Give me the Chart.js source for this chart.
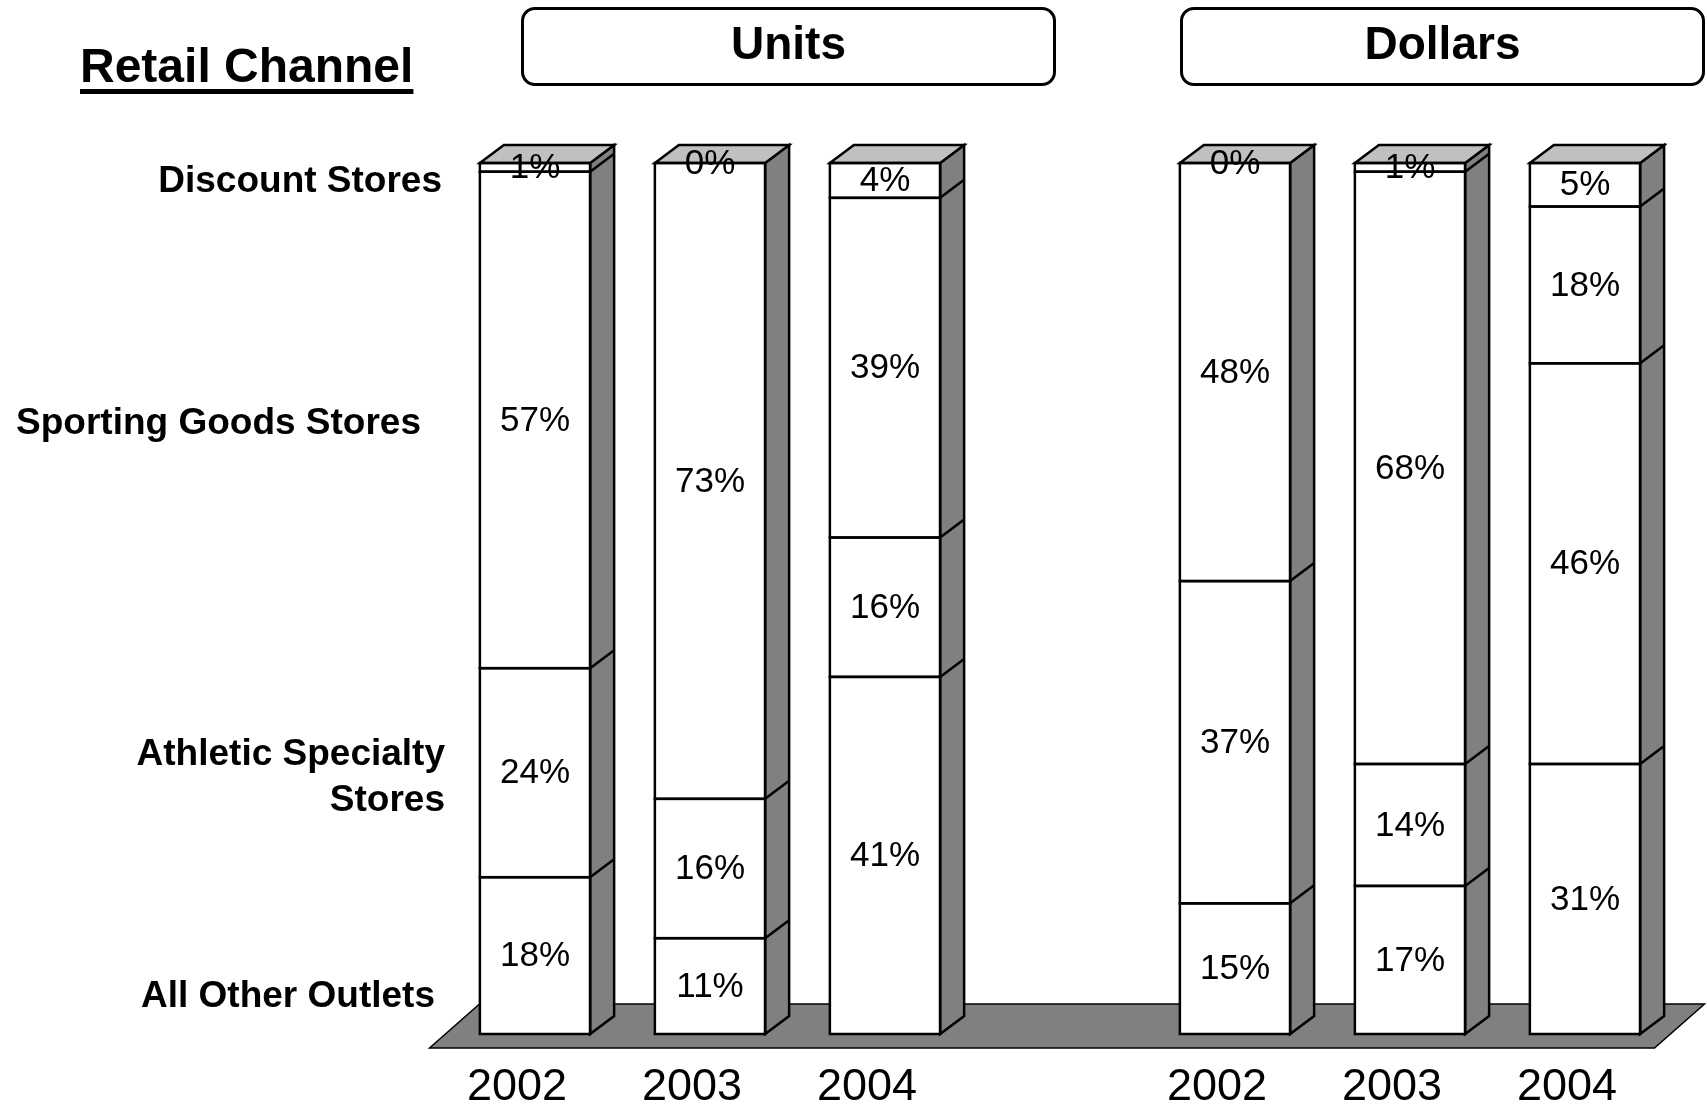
<!DOCTYPE html>
<html>
<head>
<meta charset="utf-8">
<title>Retail Channel</title>
<script src="https://cdn.jsdelivr.net/npm/chart.js@4.4.0/dist/chart.umd.min.js"></script>
<style>
    body { margin: 0; background: #fff; font-family: "Liberation Sans", Arial, sans-serif; color: #000; }
    #wrap { position: relative; width: 1707px; height: 1107px; overflow: hidden; }
    #chart { position: absolute; left: 0; top: 0; }
    .title {
        position: absolute; left: 80px; top: 66px; transform: translateY(-50%);
        font-size: 48px; font-weight: bold; line-height: 56px; white-space: nowrap;
        text-decoration: underline; text-decoration-thickness: 5px; text-underline-offset: 7px;
    }
    .group {
        position: absolute; top: 7px; height: 79px; box-sizing: border-box;
        border: 3px solid #000; border-radius: 14px;
        font-size: 46px; font-weight: bold;
        display: flex; align-items: center; justify-content: center; padding-bottom: 7px;
    }
    .row {
        position: absolute; font-size: 37px; font-weight: bold; line-height: 46px;
        text-align: right; white-space: nowrap; transform: translateY(-50%);
    }
</style>
</head>
<body>
<div id="wrap">
    <canvas id="chart" width="1707" height="1107"></canvas>
    <div class="title">Retail Channel</div>
    <div class="group" style="left:521px; width:535px;">Units</div>
    <div class="group" style="left:1180px; width:525px;">Dollars</div>
    <div class="row" style="right:1265px; top:180px;">Discount Stores</div>
    <div class="row" style="right:1286px; top:422px;">Sporting Goods Stores</div>
    <div class="row" style="right:1262px; top:776px;">Athletic Specialty<br>Stores</div>
    <div class="row" style="right:1272px; top:995px;">All Other Outlets</div>
</div>
<script>
// Columns: Units 2002-2004, an empty gap, Dollars 2002-2004
const years = ['2002', '2003', '2004', '', '2002', '2003', '2004'];
const seriesNames = ['All Other Outlets', 'Athletic Specialty Stores', 'Sporting Goods Stores', 'Discount Stores'];

// Shares in percent, stacked bottom to top
const allOther = [18, 11, 41, null, 15, 17, 31];
const athletic = [24, 16, 16, null, 37, 14, 46];
const sporting = [57, 73, 39, null, 48, 68, 18];
const discount = [1, 0, 4, null, 0, 1, 5];

const FONT = '"Liberation Sans", Arial, sans-serif';
const DEPTH_X = 24;   // 3D depth of the boxes
const DEPTH_Y = 18;

// Grey floor under the boxes
const floorPlugin = {
    id: 'floor',
    beforeDatasetsDraw(chart) {
        const { ctx, chartArea: a } = chart;
        const front = a.bottom + 14;
        const back = a.bottom - 30;
        const shift = 18, slant = 50;
        ctx.save();
        ctx.beginPath();
        ctx.moveTo(a.left - shift, front);
        ctx.lineTo(a.left - shift + slant, back);
        ctx.lineTo(a.right - shift + slant, back);
        ctx.lineTo(a.right - shift, front);
        ctx.closePath();
        ctx.fillStyle = '#808080';
        ctx.fill();
        ctx.lineWidth = 1.5;
        ctx.strokeStyle = '#000';
        ctx.stroke();
        ctx.restore();
    }
};

// Side and top faces, outlines and percent labels
const boxPlugin = {
    id: 'box3d',
    afterDatasetsDraw(chart) {
        const ctx = chart.ctx;
        const sets = chart.data.datasets;
        const metas = sets.map((_, d) => chart.getDatasetMeta(d));

        ctx.save();
        ctx.lineWidth = 2.5;
        ctx.strokeStyle = '#000';
        ctx.lineJoin = 'miter';

        chart.data.labels.forEach((_, i) => {
            const segs = metas.map(m => m.data[i]).filter((el, d) => sets[d].data[i] != null);
            if (!segs.length) return;
            const half = segs[0].width / 2;
            const left = segs[0].x - half;
            const right = segs[0].x + half;
            const base = segs[0].base;
            const top = Math.min(...segs.map(s => s.y));

            // side face
            ctx.beginPath();
            ctx.moveTo(right, top);
            ctx.lineTo(right + DEPTH_X, top - DEPTH_Y);
            ctx.lineTo(right + DEPTH_X, base - DEPTH_Y);
            ctx.lineTo(right, base);
            ctx.closePath();
            ctx.fillStyle = '#808080';
            ctx.fill();
            ctx.stroke();

            // top face
            ctx.beginPath();
            ctx.moveTo(left, top);
            ctx.lineTo(left + DEPTH_X, top - DEPTH_Y);
            ctx.lineTo(right + DEPTH_X, top - DEPTH_Y);
            ctx.lineTo(right, top);
            ctx.closePath();
            ctx.fillStyle = '#c0c0c0';
            ctx.fill();
            ctx.stroke();

            // front segments and their edges on the side
            segs.forEach(s => {
                if (s.base - s.y < 0.5) return;
                ctx.strokeRect(left, s.y, right - left, s.base - s.y);
                if (s.y > top + 0.5) {
                    ctx.beginPath();
                    ctx.moveTo(right, s.y);
                    ctx.lineTo(right + DEPTH_X, s.y - DEPTH_Y);
                    ctx.stroke();
                }
            });
        });

        // percent labels in the middle of each segment
        ctx.fillStyle = '#000';
        ctx.font = '35px ' + FONT;
        ctx.textAlign = 'center';
        ctx.textBaseline = 'middle';
        sets.forEach((ds, d) => {
            metas[d].data.forEach((el, i) => {
                const v = ds.data[i];
                if (v == null) return;
                ctx.fillText(v + '%', el.x, (el.y + el.base) / 2 + 1);
            });
        });
        ctx.restore();
    }
};

const seriesData = [allOther, athletic, sporting, discount];

new Chart(document.getElementById('chart'), {
    type: 'bar',
    data: {
        labels: years,
        datasets: seriesNames.map((name, k) => ({
            label: name,
            data: seriesData[k],
            backgroundColor: '#ffffff',
            borderWidth: 0,
            barPercentage: 0.63,
            categoryPercentage: 1
        }))
    },
    options: {
        responsive: false,
        devicePixelRatio: 1,
        animation: false,
        layout: { padding: { left: 447.5, right: 34.5, top: 163, bottom: 0 } },
        plugins: {
            legend: { display: false },
            tooltip: { enabled: false }
        },
        scales: {
            x: {
                stacked: true,
                grid: { display: false, drawTicks: false },
                border: { display: false },
                ticks: {
                    color: '#000',
                    font: { family: FONT, size: 45 },
                    labelOffset: -18,
                    padding: 27,
                    autoSkip: false,
                    maxRotation: 0
                },
                afterFit(scale) { scale.height = 73; }
            },
            y: {
                stacked: true,
                display: false,
                min: 0,
                max: 100
            }
        }
    },
    plugins: [floorPlugin, boxPlugin]
});
</script>
</body>
</html>
